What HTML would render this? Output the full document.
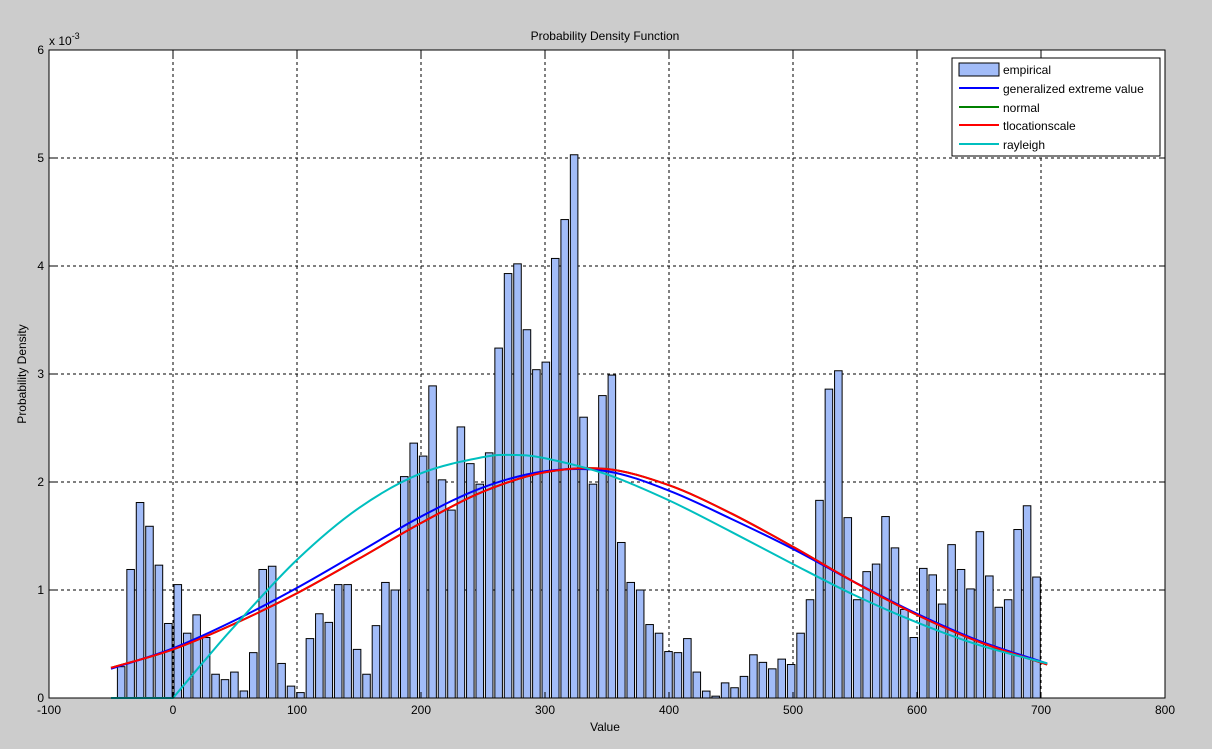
<!DOCTYPE html>
<html><head><meta charset="utf-8"><style>
html,body{margin:0;padding:0;background:#cccccc;}
svg{display:block;font-family:"Liberation Sans",Arial,sans-serif;}
</style></head><body>
<svg id="chart" width="1212" height="749" viewBox="0 0 1212 749" xmlns="http://www.w3.org/2000/svg">
<rect x="0" y="0" width="1212" height="749" fill="#cccccc"/>
<rect x="49" y="50" width="1116" height="648" fill="#ffffff"/>
<g id="grid"></g>
<g id="bars"></g>
<g id="curves"></g>
<rect x="49" y="50" width="1116" height="648" fill="none" stroke="#000" stroke-width="1"/>
<g id="ticks"></g>
<text x="605" y="40" font-size="12" text-anchor="middle">Probability Density Function</text>
<text x="605" y="731" font-size="12" text-anchor="middle">Value</text>
<text transform="translate(26,374) rotate(-90)" font-size="12" text-anchor="middle">Probability Density</text>
<text x="49" y="45" font-size="12">x 10<tspan dy="-6" font-size="9">-3</tspan></text>
<g>
<rect x="952" y="58" width="208" height="98" fill="#fff" stroke="#000"/>
<rect x="959" y="63" width="40" height="13" fill="#a2bcf8" stroke="#000"/>
<text x="1003" y="74" font-size="12">empirical</text>
<line x1="959" y1="88" x2="999" y2="88" stroke="#0000ff" stroke-width="2"/>
<text x="1003" y="93" font-size="12">generalized extreme value</text>
<line x1="959" y1="107" x2="999" y2="107" stroke="#008000" stroke-width="2"/>
<text x="1003" y="112" font-size="12">normal</text>
<line x1="959" y1="125" x2="999" y2="125" stroke="#ff0000" stroke-width="2"/>
<text x="1003" y="130" font-size="12">tlocationscale</text>
<line x1="959" y1="144" x2="999" y2="144" stroke="#00bfbf" stroke-width="2"/>
<text x="1003" y="149" font-size="12">rayleigh</text>
</g>
</svg>
<script>
const binStart = -45.6;
const binWidth = 7.61;
const barValues = [0.29,1.19,1.81,1.59,1.23,0.69,1.05,0.60,0.77,0.56,0.22,0.17,0.24,0.065,0.42,1.19,1.22,0.32,0.11,0.05,0.55,0.78,0.70,1.05,1.05,0.45,0.22,0.67,1.07,1.00,2.05,2.36,2.24,
2.89,2.02,1.74,2.51,2.17,1.98,2.27,3.24,3.93,4.02,3.41,3.04,3.11,4.07,4.43,5.03,2.60,1.98,2.80,2.99,1.44,1.07,1.00,0.68,0.60,0.43,0.42,0.55,0.24,0.064,0.017,0.14,0.095,0.20,
0.40,0.33,0.27,0.36,0.31,0.60,0.91,1.83,2.86,3.03,1.67,0.91,1.17,1.24,1.68,1.39,0.82,0.56,1.20,1.14,0.87,1.42,1.19,1.01,1.54,1.13,0.84,0.91,1.56,1.78,1.12];
const curveX = [-50,0,50,100,150,200,250,300,350,400,450,500,550,600,650,705];
const gevValues = [0.27,0.46,0.72,1.02,1.35,1.68,1.95,2.10,2.10,1.92,1.66,1.38,1.07,0.78,0.53,0.32];
const normalValues = [0.28,0.45,0.69,0.97,1.29,1.62,1.91,2.09,2.12,1.97,1.71,1.40,1.07,0.77,0.52,0.31];
const tlocValues = [0.28,0.45,0.69,0.97,1.29,1.62,1.91,2.09,2.12,1.97,1.71,1.40,1.07,0.77,0.52,0.31];
const rayleighX = [-50,0,25,50,100,150,200,250,275,300,350,400,450,500,550,600,650,705];
const rayleighValues = [0,0,0.34,0.67,1.28,1.76,2.08,2.23,2.25,2.22,2.07,1.83,1.54,1.24,0.95,0.70,0.49,0.32];
const xTicks = [-100,0,100,200,300,400,500,600,700,800];
const yTicks = [0,1,2,3,4,5,6];

const X0=49,X1=1165,Y0=698,Y1=50;
function xs(v){return X0+(v+100)/900*(X1-X0);}
function ys(v){return Y0-v/6*(Y0-Y1);}
const NS="http://www.w3.org/2000/svg";
function mk(tag,attrs,parent){const e=document.createElementNS(NS,tag);for(const k in attrs)e.setAttribute(k,attrs[k]);parent.appendChild(e);return e;}

const grid=document.getElementById('grid');
xTicks.forEach(t=>{if(t===-100||t===800)return;
 const l=mk('line',{x1:xs(t),x2:xs(t),y1:Y1,y2:Y0,stroke:'#000','stroke-dasharray':'3,3','stroke-width':1},grid);
 
 });
yTicks.forEach(t=>{if(t===0||t===6)return;
 const l=mk('line',{x1:X0,x2:X1,y1:ys(t),y2:ys(t),stroke:'#000','stroke-dasharray':'3,3','stroke-width':1},grid);
 
 });

const bars=document.getElementById('bars');
barValues.forEach((v,i)=>{
 const a=binStart+i*binWidth, b=a+binWidth;
 const pa=xs(a), pb=xs(b), w=(pb-pa)*0.8, cx=(pa+pb)/2;
 const r=mk('rect',{x:cx-w/2,y:ys(v),width:w,height:ys(0)-ys(v),fill:'#a2bcf8',stroke:'#000','stroke-width':1},bars);
 
 
});

function spline(xsArr,vals){
 const p=xsArr.map((x,i)=>[xs(x),ys(vals[i])]);
 let d='M'+p[0][0]+','+p[0][1];
 for(let i=0;i<p.length-1;i++){
  const p0=p[Math.max(0,i-1)],p1=p[i],p2=p[i+1],p3=p[Math.min(p.length-1,i+2)];
  let c1=[p1[0]+(p2[0]-p0[0])/6,p1[1]+(p2[1]-p0[1])/6];
  let c2=[p2[0]-(p3[0]-p1[0])/6,p2[1]-(p3[1]-p1[1])/6];
  if(vals[i]===0&&vals[i+1]===0){c1=[p1[0],p1[1]];c2=[p2[0],p2[1]];}
  if(vals[i]===0){c1=[p1[0],p1[1]];}
  d+=' C'+c1[0]+','+c1[1]+' '+c2[0]+','+c2[1]+' '+p2[0]+','+p2[1];
 }
 return d;
}
const curves=document.getElementById('curves');
[['normal',curveX,normalValues,'#008000'],['gev',curveX,gevValues,'#0000ff'],['tlocationscale',curveX,tlocValues,'#ff0000'],['rayleigh',rayleighX,rayleighValues,'#00bfbf']].forEach(c=>{
 const p=mk('path',{d:spline(c[1],c[2]),fill:'none',stroke:c[3],'stroke-width':2},curves);
 
 
});

const ticks=document.getElementById('ticks');
xTicks.forEach(t=>{
 const m1=mk('line',{x1:xs(t),x2:xs(t),y1:Y0,y2:Y0-6,stroke:'#000'},ticks);
 
 
 const m2=mk('line',{x1:xs(t),x2:xs(t),y1:Y1,y2:Y1+6,stroke:'#000'},ticks);
 
 
 const tx=mk('text',{x:xs(t),y:Y0+16,'font-size':12,'text-anchor':'middle'},ticks);
 tx.textContent=t;
 
 
});
yTicks.forEach(t=>{
 const m1=mk('line',{x1:X0,x2:X0+6,y1:ys(t),y2:ys(t),stroke:'#000'},ticks);
 
 
 const m2=mk('line',{x1:X1,x2:X1-6,y1:ys(t),y2:ys(t),stroke:'#000'},ticks);
 
 
 const tx=mk('text',{x:X0-5,y:ys(t)+4,'font-size':12,'text-anchor':'end'},ticks);
 tx.textContent=t;
 
 
});
</script>
</body></html>
